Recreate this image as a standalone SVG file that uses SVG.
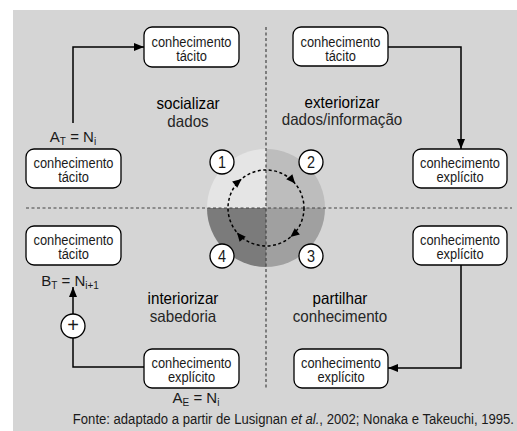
<svg xmlns="http://www.w3.org/2000/svg" width="517" height="431" viewBox="0 0 517 431">
<style>
.bx{fill:#fff;stroke:#000;stroke-width:1.3}
.bt{font-family:"Liberation Sans",Arial,sans-serif;font-size:15.5px;fill:#1a1a1a;text-anchor:middle}
.lb{font-family:"Liberation Sans",Arial,sans-serif;font-size:16.5px;fill:#262626;text-anchor:middle}
.lb1{fill:#000}
.f{font-family:"Liberation Sans",Arial,sans-serif;font-size:15px;fill:#1a1a1a}
.sub{font-size:10px}
.num{font-family:"Liberation Sans",Arial,sans-serif;font-size:17px;fill:#1a1a1a;text-anchor:middle}
.nc{fill:#fff;stroke:#000;stroke-width:1.3}
.cn{fill:none;stroke:#000;stroke-width:1.5}
.div{fill:none;stroke:#444;stroke-width:1.2;stroke-dasharray:3 2.5}
</style>
<defs>
<marker id="arr" viewBox="0 0 10 8" refX="10" refY="4" markerWidth="10" markerHeight="8" orient="auto" markerUnits="userSpaceOnUse"><path d="M0,0 L10,4 L0,8 Z" fill="#000"/></marker>
<path id="ah" d="M0,0 L-9,-4 L-9,4 Z" fill="#000"/>
</defs>
<rect x="13" y="10" width="504" height="421" fill="#d5d5d5"/>
<g id="cycle">
<path d="M266,208 L207,208 A59,59 0 0 1 266,149 Z" fill="#e5e5e5"/>
<path d="M266,208 L266,149 A59,59 0 0 1 325,208 Z" fill="#bdbdbd"/>
<path d="M266,208 L325,208 A59,59 0 0 1 266,267 Z" fill="#a0a0a0"/>
<path d="M266,208 L266,267 A59,59 0 0 1 207,208 Z" fill="#7b7b7b"/>
</g>
<g id="dividers">
<line class="div" x1="266" y1="27" x2="266" y2="390"/>
<line class="div" x1="26" y1="208" x2="512" y2="208"/>
</g>
<g id="inner-cycle">
<circle cx="266" cy="208" r="38" fill="none" stroke="#000" stroke-width="1.5" stroke-dasharray="3 2.5"/>
<use href="#ah" transform="translate(241.6,178.9) rotate(-40)"/>
<use href="#ah" transform="translate(295.1,183.6) rotate(50)"/>
<use href="#ah" transform="translate(290.4,237.1) rotate(140)"/>
<use href="#ah" transform="translate(236.9,232.4) rotate(230)"/>
</g>
<g id="n1"><circle class="nc" cx="222" cy="162" r="12"/><text class="num" transform="translate(222,168) scale(0.85,1)">1</text></g>
<g id="n2"><circle class="nc" cx="311" cy="162" r="12"/><text class="num" transform="translate(311,168) scale(0.85,1)">2</text></g>
<g id="n3"><circle class="nc" cx="311" cy="256" r="12"/><text class="num" transform="translate(311,262) scale(0.85,1)">3</text></g>
<g id="n4"><circle class="nc" cx="222" cy="256" r="12"/><text class="num" transform="translate(222,262) scale(0.85,1)">4</text></g>
<g id="connectors">
<path class="cn" d="M73,123 V47 H144" marker-end="url(#arr)"/>
<path class="cn" d="M388,47 H461 V149" marker-end="url(#arr)"/>
<path class="cn" d="M461,265 V368 H388" marker-end="url(#arr)"/>
<path class="cn" d="M144,367 H73 V338"/>
<path class="cn" d="M73,314 V287" marker-end="url(#arr)"/>
</g>
<g id="plus"><circle class="nc" cx="73" cy="326" r="12"/><text class="num" x="73" y="332" style="font-size:20px">+</text></g>
<g id="box-tl"><rect class="bx" x="144" y="27" width="95" height="40" rx="8"/><g transform="translate(191.5,46.5) scale(0.83,1)"><text class="bt" x="0" y="0">conhecimento</text><text class="bt" x="0" y="14">tácito</text></g></g>
<g id="box-l"><rect class="bx" x="26" y="149" width="95" height="39" rx="8"/><g transform="translate(73.5,168) scale(0.83,1)"><text class="bt" x="0" y="0">conhecimento</text><text class="bt" x="0" y="14">tácito</text></g></g>
<g id="box-tr"><rect class="bx" x="293" y="27" width="95" height="39" rx="8"/><g transform="translate(340.5,46.5) scale(0.83,1)"><text class="bt" x="0" y="0">conhecimento</text><text class="bt" x="0" y="14">tácito</text></g></g>
<g id="box-r"><rect class="bx" x="413" y="149" width="94" height="39" rx="8"/><g transform="translate(460,168) scale(0.83,1)"><text class="bt" x="0" y="0">conhecimento</text><text class="bt" x="0" y="14">explícito</text></g></g>
<g id="box-bl"><rect class="bx" x="26" y="226" width="95" height="39" rx="8"/><g transform="translate(73.5,245) scale(0.83,1)"><text class="bt" x="0" y="0">conhecimento</text><text class="bt" x="0" y="14">tácito</text></g></g>
<g id="box-b"><rect class="bx" x="144" y="349" width="95" height="39" rx="8"/><g transform="translate(191.5,368) scale(0.83,1)"><text class="bt" x="0" y="0">conhecimento</text><text class="bt" x="0" y="14">explícito</text></g></g>
<g id="box-rb"><rect class="bx" x="413" y="226" width="94" height="39" rx="8"/><g transform="translate(460,245) scale(0.83,1)"><text class="bt" x="0" y="0">conhecimento</text><text class="bt" x="0" y="14">explícito</text></g></g>
<g id="box-br"><rect class="bx" x="294" y="349" width="94" height="39" rx="8"/><g transform="translate(341,368) scale(0.83,1)"><text class="bt" x="0" y="0">conhecimento</text><text class="bt" x="0" y="14">explícito</text></g></g>
<g id="labels">
<text class="lb lb1" transform="translate(188,108.5) scale(0.92,1)">socializar</text><text class="lb" transform="translate(188,126.5) scale(0.92,1)">dados</text>
<text class="lb lb1" transform="translate(342,108) scale(0.92,1)">exteriorizar</text><text class="lb" transform="translate(342,125) scale(0.92,1)">dados/informação</text>
<text class="lb lb1" transform="translate(183,304) scale(0.92,1)">interiorizar</text><text class="lb" transform="translate(183,322) scale(0.92,1)">sabedoria</text>
<text class="lb lb1" transform="translate(340,304) scale(0.92,1)">partilhar</text><text class="lb" transform="translate(340,322) scale(0.92,1)">conhecimento</text>
</g>
<g id="formulas">
<text class="f" x="73" y="142" text-anchor="middle">A<tspan class="sub" dy="3">T</tspan><tspan dy="-3"> = N</tspan><tspan class="sub" dy="3">i</tspan></text>
<text class="f" x="70" y="286" text-anchor="middle">B<tspan class="sub" dy="3">T</tspan><tspan dy="-3"> = N</tspan><tspan class="sub" dy="3">i+1</tspan></text>
<text class="f" x="196" y="403" text-anchor="middle">A<tspan class="sub" dy="3">E</tspan><tspan dy="-3"> = N</tspan><tspan class="sub" dy="3">i</tspan></text>
</g>
<text class="f" transform="translate(514,424) scale(0.845,1)" text-anchor="end" style="font-size:15.5px">Fonte: adaptado a partir de Lusignan <tspan font-style="italic">et al.</tspan>, 2002; Nonaka e Takeuchi, 1995.</text>
</svg>
